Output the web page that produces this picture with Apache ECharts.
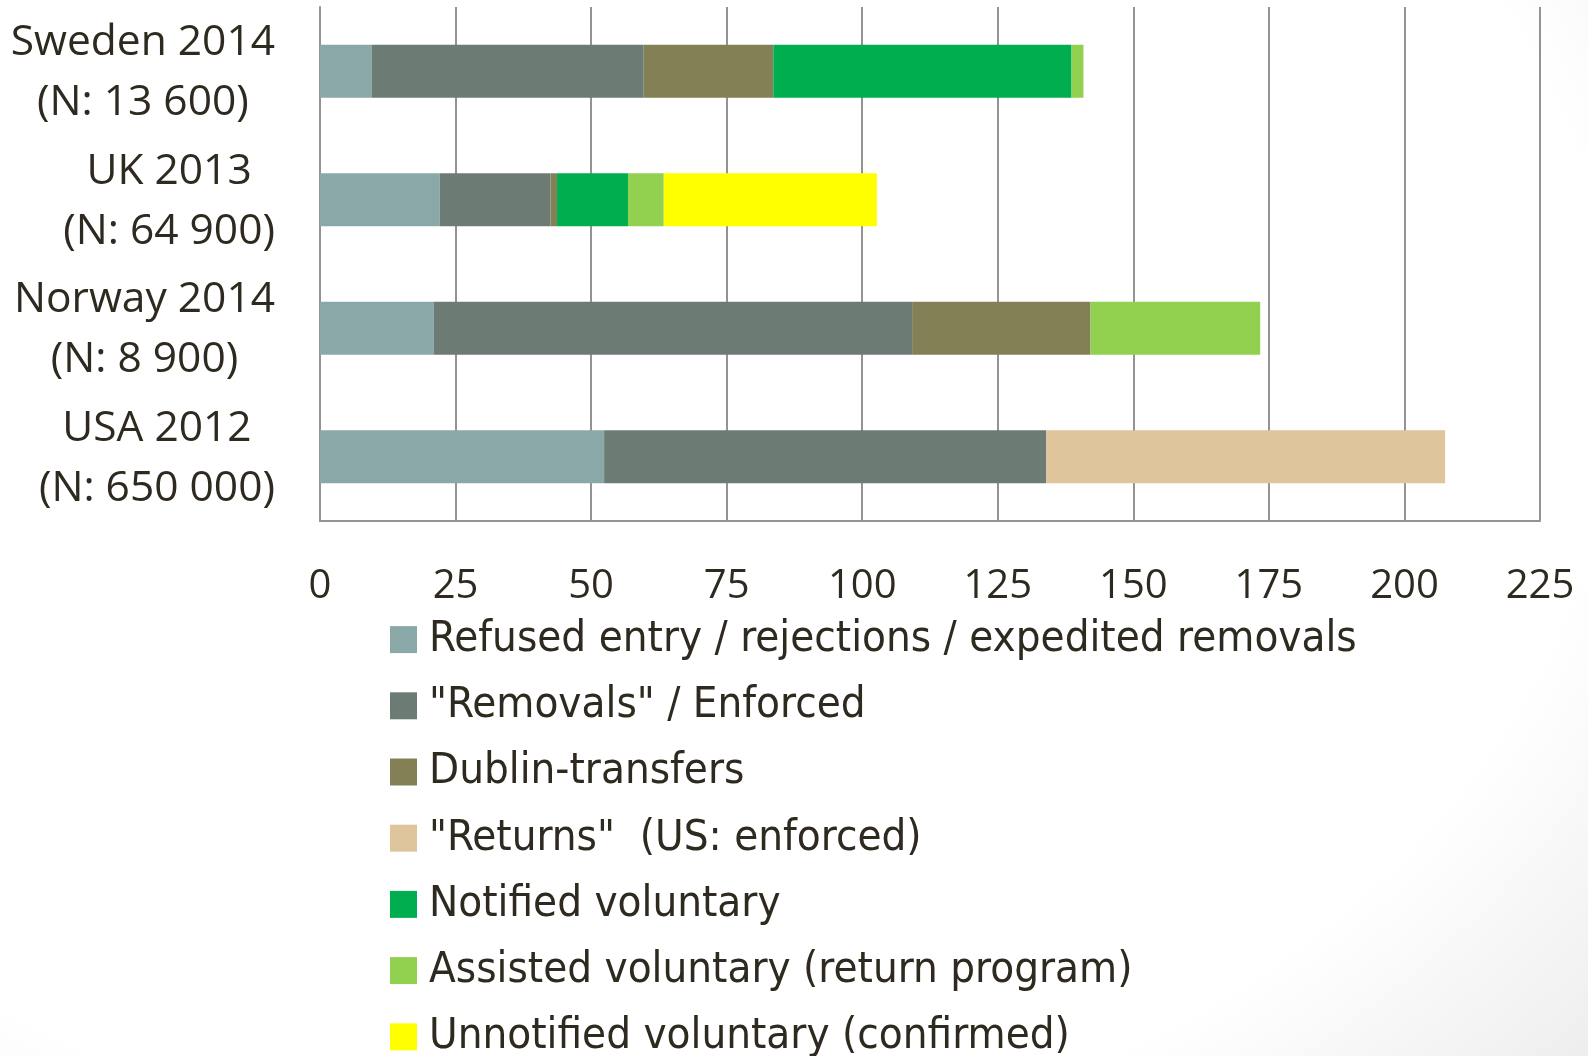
<!DOCTYPE html>
<html>
<head>
<meta charset="utf-8">
<script src="https://cdn.jsdelivr.net/npm/echarts@6/dist/echarts.min.js"></script>
<style>
  html, body { margin: 0; padding: 0; width: 1588px; height: 1056px; overflow: hidden;
    background: radial-gradient(ellipse 1400px 1100px at 38% 35%, #ffffff 72%, #e9e9e9 100%); }
  #chart { width: 1588px; height: 1056px; }
</style>
</head>
<body>
<div id="chart"></div>
<script>
// ---- data ----
const categories = ['Sweden 2014', 'UK 2013', 'Norway 2014', 'USA 2012'];
const sampleSizes = ['(N: 13 600)', '(N: 64 900)', '(N: 8 900)', '(N: 650 000)'];

const seriesNames = [
  'Refused entry / rejections / expedited removals',
  '"Removals" / Enforced',
  'Dublin-transfers',
  '"Returns"  (US: enforced)',
  'Notified voluntary',
  'Assisted voluntary (return program)',
  'Unnotified voluntary (confirmed)'
];
const refusedEntry   = [9.5, 22.1, 21.0, 52.4];
const removals       = [50.2, 20.4, 88.2, 81.5];
const dublinTransfers= [23.9, 1.2, 32.9, null];
const returnsUS      = [null, null, null, 73.6];
const notifiedVol    = [55.0, 13.1, null, null];
const assistedVol    = [2.2, 6.6, 31.3, null];
const unnotifiedVol  = [null, 39.3, null, null];

const xMin = 0, xMax = 225, xInterval = 25;

// ---- styles ----
const colors = ['#8AA8A7', '#6C7B73', '#838055', '#DEC59C', '#00AE4F', '#92D050', '#FFFF00'];
const textColor = '#2e2a20';
const gridColor = '#939393';

// pick a condensed font for the legend if one is installed
const cv = document.createElement('canvas').getContext('2d');
function hasFont(f) {
  cv.font = '72px monospace'; const a = cv.measureText('Refused entry WMwm il 0123').width;
  cv.font = "72px '" + f + "', monospace"; const b = cv.measureText('Refused entry WMwm il 0123').width;
  return Math.abs(a - b) > 0.5;
}
const condensedCandidates = ['Liberation Sans Narrow', 'DejaVu Sans Condensed', 'Noto Sans Condensed',
  'Noto Sans SemiCondensed', 'Open Sans Condensed', 'Open Sans SemiCondensed', 'Roboto Condensed'];
let legendFont = 'Open Sans';
for (const f of condensedCandidates) { if (hasFont(f)) { legendFont = f; break; } }
cv.font = "100px '" + legendFont + "'";
const legendTargetWidth = 928;
const legendSize = Math.min(54, 100 * legendTargetWidth / cv.measureText(seriesNames[0]).width);

const seriesData = [refusedEntry, removals, dublinTransfers, returnsUS, notifiedVol, assistedVol, unnotifiedVol];

const chart = echarts.init(document.getElementById('chart'));
chart.setOption({
  backgroundColor: 'transparent',
  animation: false,
  color: colors,
  grid: { left: 320, right: 48, top: 7, bottom: 535, containLabel: false },
  xAxis: {
    type: 'value', min: xMin, max: xMax, interval: xInterval,
    axisLine: { show: true, lineStyle: { color: gridColor, width: 2 } },
    axisTick: { show: false },
    splitLine: { show: true, lineStyle: { color: gridColor, width: 2 } },
    axisLabel: { color: textColor, fontSize: 40, fontFamily: 'Open Sans', margin: 46 }
  },
  yAxis: {
    type: 'category', inverse: true, data: categories,
    axisLine: { show: true, lineStyle: { color: gridColor, width: 2 } },
    axisTick: { show: false },
    axisLabel: {
      margin: 45, align: 'right', padding: [4, 0, 0, 0],
      formatter: function (v, i) { return '{a|' + v + '}\n{a|' + sampleSizes[i] + '}'; },
      rich: { a: { align: 'center', fontSize: 42.5, lineHeight: 60, fontFamily: 'Open Sans', color: textColor } }
    }
  },
  legend: {
    orient: 'vertical', left: 385, top: 601.5, height: 480,
    itemWidth: 27, itemHeight: 27, itemGap: 0, icon: 'rect',
    textStyle: { color: textColor, fontSize: legendSize, lineHeight: 66.2, fontFamily: legendFont, padding: [0, 0, 0, 7] },
    data: seriesNames
  },
  series: seriesNames.map(function (name, k) {
    return { name: name, type: 'bar', stack: 'total', barWidth: 53, data: seriesData[k] };
  })
});
</script>
</body>
</html>
